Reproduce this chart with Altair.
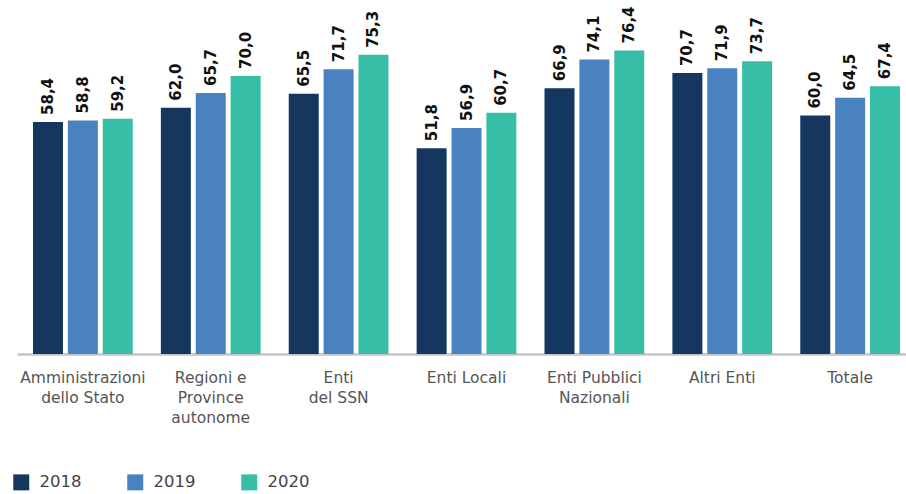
import altair as alt
import pandas as pd

categories = ["Amministrazioni|dello Stato", "Regioni e|Province|autonome", "Enti|del SSN",
              "Enti Locali", "Enti Pubblici|Nazionali", "Altri Enti", "Totale"]
years = ["2018", "2019", "2020"]
v2018 = [58.4, 62.0, 65.5, 51.8, 66.9, 70.7, 60.0]
v2019 = [58.8, 65.7, 71.7, 56.9, 74.1, 71.9, 64.5]
v2020 = [59.2, 70.0, 75.3, 60.7, 76.4, 73.7, 67.4]
colors = ["#15375f", "#4a82c1", "#36bea6"]

rows = []
for i, c in enumerate(categories):
    for y, vals in zip(years, [v2018, v2019, v2020]):
        rows.append({"cat": c, "year": y, "value": vals[i],
                     "label": f"{vals[i]:.1f}".replace(".", ",")})
df = pd.DataFrame(rows)

FONT = "DejaVu Sans"

x = alt.X("cat:N", sort=categories, title=None,
          scale=alt.Scale(paddingInner=0.22, paddingOuter=0.125, range=[0, 899]),
          axis=alt.Axis(labelAngle=0, ticks=False, domainColor="#c4c4c4", domainWidth=2.5,
                        labelExpr="split(datum.label, '|')", labelFont=FONT, labelFontSize=15.5,
                        labelColor="#555555", labelPadding=16, labelLineHeight=20,
                        labelBaseline="top", labelLimit=200))
xo = alt.XOffset("year:N", sort=years, scale=alt.Scale(paddingInner=0.14))
y = alt.Y("value:Q", scale=alt.Scale(domain=[0, 89.1], nice=False), axis=None)

bars = alt.Chart(df).mark_bar().encode(
    x=x, xOffset=xo, y=y,
    color=alt.Color("year:N", sort=years, scale=alt.Scale(domain=years, range=colors),
                    legend=alt.Legend(title=None, orient="none", legendX=-4, legendY=474,
                                      direction="horizontal", symbolType="square",
                                      symbolSize=256, symbolStrokeWidth=0,
                                      labelFont=FONT, labelFontSize=16.5, labelColor="#444444",
                                      columnPadding=45, labelOffset=10))
)

text = alt.Chart(df).mark_text(angle=270, align="left", baseline="middle", dx=7,
                               font=FONT, fontWeight="bold", fontSize=15, color="#111111").encode(
    x=x, xOffset=xo, y=y, text="label:N"
)

chart = alt.layer(bars, text).properties(
    width=889, height=354,
    autosize=alt.AutoSizeParams(type="none"),
    padding={"left": 17, "top": 0, "right": 0, "bottom": 140}
).configure_view(stroke=None)

chart.save("out.html", embed_options={"renderer": "svg", "actions": False})
